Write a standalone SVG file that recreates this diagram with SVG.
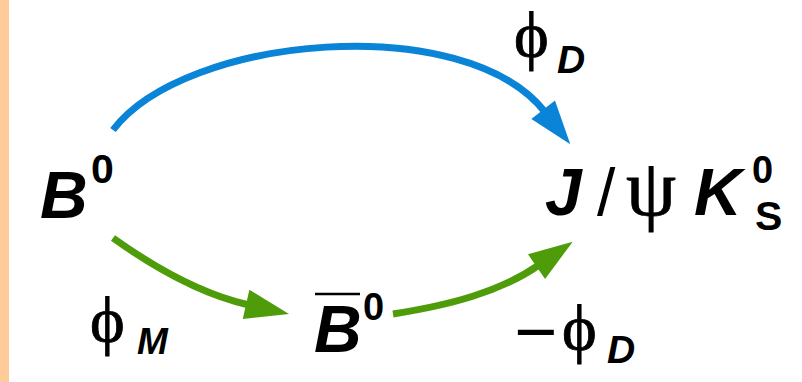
<svg xmlns="http://www.w3.org/2000/svg" width="802" height="382" viewBox="0 0 802 382">
<style>
.bi{font-family:"Liberation Sans",Arial,sans-serif;font-weight:bold;font-style:italic;fill:#000}
.r{font-family:"Liberation Sans",Arial,sans-serif;font-weight:normal;fill:#000}
.b{font-family:"Liberation Sans",Arial,sans-serif;font-weight:bold;fill:#000}
.gr{font-family:"Liberation Serif","Times New Roman",serif;fill:#000;stroke:#000;stroke-width:0.8}
.blue{fill:none;stroke:#0A84D6;stroke-width:7}
.green{fill:none;stroke:#4E9C0A;stroke-width:7}
</style>
<defs>
<marker id="ahB" markerUnits="userSpaceOnUse" viewBox="-5 -17 50 34" markerWidth="50" markerHeight="34" refX="3" refY="0" orient="auto">
<path d="M0,-15 L44,0 L0,15 z" fill="#0A84D6"/>
</marker>
<marker id="ahG" markerUnits="userSpaceOnUse" viewBox="-5 -17 50 34" markerWidth="50" markerHeight="34" refX="3" refY="0" orient="auto">
<path d="M0,-15 L44,0 L0,15 z" fill="#4E9C0A"/>
</marker>
</defs>
<rect x="0" y="0" width="802" height="382" fill="#fff"/>
<rect x="0" y="0" width="9" height="382" fill="#FFCC99"/>
<g id="connectors">
<path class="blue" d="M113,130 C185,35 465,10 545,112" marker-end="url(#ahB)"/>
<path class="green" d="M113,238 C155,268 200,294 249,305" marker-end="url(#ahG)"/>
<path class="green" d="M393,314 C450,305 500,292 539,265" marker-end="url(#ahG)"/>
</g>
<g id="B0">
<text class="bi" x="40" y="218" font-size="66">B</text>
<text class="b" x="91" y="183" font-size="41">0</text>
</g>
<g id="JpsiKS">
<text class="bi" x="545" y="215" font-size="66">J</text>
<text class="r" x="597" y="215" font-size="66">/</text>
<text class="gr" x="626" y="215" font-size="80">ψ</text>
<text class="bi" x="694" y="215" font-size="66">K</text>
<text class="b" x="752" y="183" font-size="38">0</text>
<text class="b" x="755" y="230" font-size="41">S</text>
</g>
<g id="B0bar">
<line x1="315" y1="294" x2="360" y2="294" stroke="#000" stroke-width="2.5"/>
<text class="bi" x="314" y="352" font-size="66">B</text>
<text class="b" x="363" y="320" font-size="38">0</text>
</g>
<g id="labelPhiD">
<text class="gr" x="514" y="57" font-size="66">ϕ</text>
<text class="bi" x="557" y="73" font-size="39">D</text>
</g>
<g id="labelPhiM">
<text class="gr" x="90" y="342" font-size="66">ϕ</text>
<text class="bi" x="137" y="354" font-size="37">M</text>
</g>
<g id="labelMinusPhiD">
<text class="r" x="514" y="357" font-size="74">−</text>
<text class="gr" x="562" y="350" font-size="66">ϕ</text>
<text class="bi" x="607" y="363" font-size="39">D</text>
</g>
</svg>
